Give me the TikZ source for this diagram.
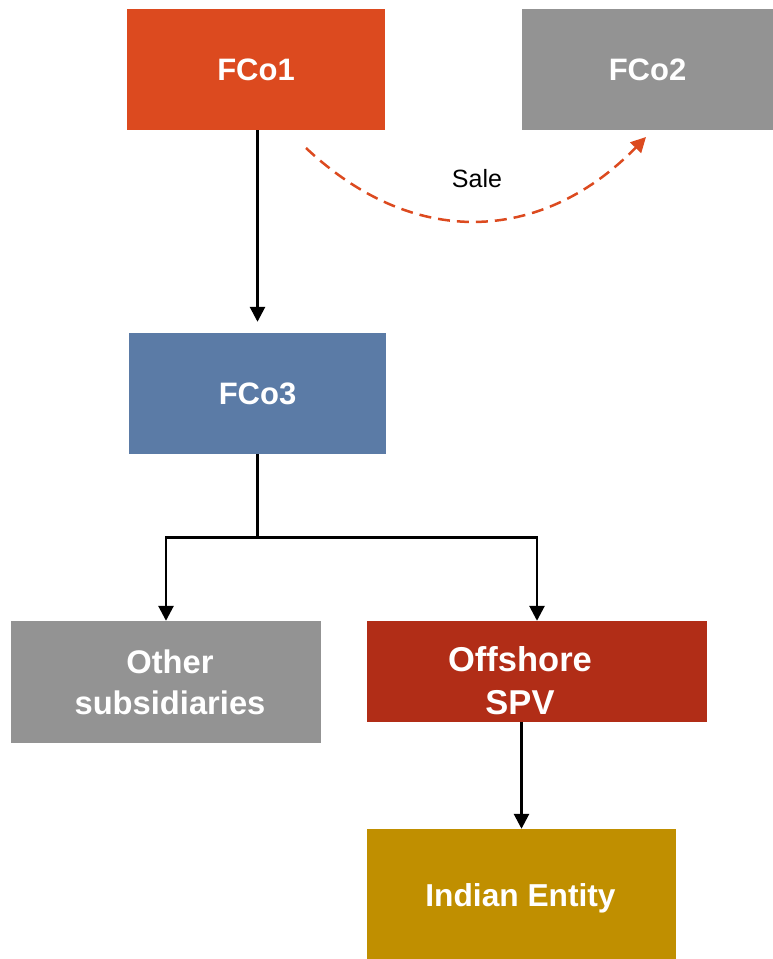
\documentclass[tikz,border=0pt]{standalone}
\usepackage{fontspec}
\setmainfont{Liberation Sans}
\usetikzlibrary{arrows.meta}

\definecolor{fcoorange}{HTML}{DC4A1F}
\definecolor{fcogray}{HTML}{939393}
\definecolor{fcoblue}{HTML}{5B7BA6}
\definecolor{spvred}{HTML}{B12D17}
\definecolor{entgold}{HTML}{C08F00}

\tikzset{
  entity/.style={rectangle, inner sep=0pt, text=white,
    font=\fontsize{31}{41}\selectfont\bfseries, align=center},
  boxtext/.style={text=white, align=center, inner sep=0pt},
  link/.style={line width=2.7pt, -{Triangle[width=15pt,length=15pt]}},
  trunk/.style={line width=2.7pt},
  sale/.style={line width=2.5pt, fcoorange, dash pattern=on 12pt off 7pt,
    -{Triangle[width=15pt,length=15pt]}}
}

\begin{document}
\begin{tikzpicture}[x=1pt,y=-1pt]
  \useasboundingbox (0,0) rectangle (773,959);

  % entities
  \node[entity, fill=fcoorange, minimum width=258pt, minimum height=121pt]
    (fco1) at (256,69.5) {FCo1};
  \node[entity, fill=fcogray, minimum width=251pt, minimum height=121pt]
    (fco2) at (647.5,69.5) {FCo2};
  \node[entity, fill=fcoblue, minimum width=257pt, minimum height=121pt]
    (fco3) at (257.5,393.5) {FCo3};
  \node[entity, fill=fcogray, minimum width=310pt, minimum height=122pt]
    (other) at (166,682) {};
  \node[boxtext, font=\fontsize{32.7}{41}\selectfont\bfseries]
    (othertext) at (170,682) {Other\\subsidiaries};
  \node[entity, fill=spvred, minimum width=340pt, minimum height=101pt]
    (spv) at (537,671.5) {};
  \node[boxtext, font=\fontsize{34.5}{43}\selectfont\bfseries]
    (spvtext) at (520,681) {Offshore\\SPV};
  \node[entity, fill=entgold, minimum width=309pt, minimum height=130pt,
    font=\fontsize{31.7}{41}\selectfont\bfseries]
    (indian) at (521.5,894) {};
  \node[boxtext, font=\fontsize{31.7}{41}\selectfont\bfseries]
    (indiantext) at (520.5,898) {Indian Entity};

  % ownership links
  \draw[link, shorten >=11pt] (fco1.south -| fco3.north) -- (fco3.north);
  \draw[trunk] (fco3.south) -- ++(0,83) coordinate (split);
  \draw[link] (split) -| (other.north);
  \draw[link] (split) -| (spv.north);
  \draw[link] (spv.south -| indian.north) -- (indian.north);

  % sale of the holding
  \coordinate (salestart) at (306,148);
  \coordinate (saleend) at (646,137);
  \draw[sale] (salestart) .. controls (420,255) and (548,238) .. (saleend);
  \node[font=\fontsize{25}{30}\selectfont, inner sep=0pt] (salelabel) at (477,179) {Sale};
\end{tikzpicture}
\end{document}
